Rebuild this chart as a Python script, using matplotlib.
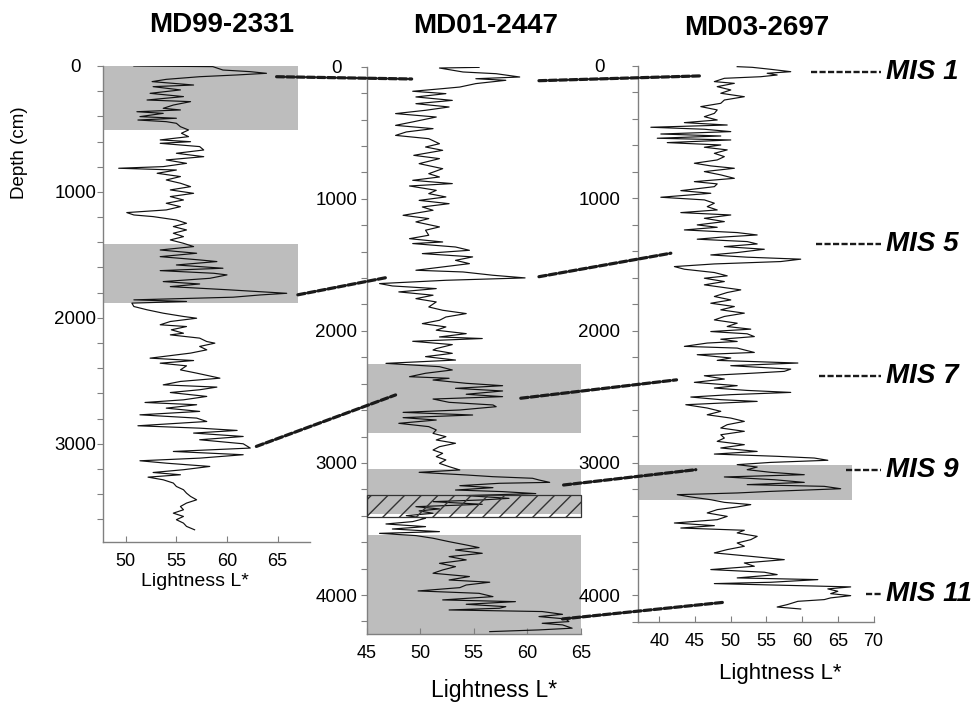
import numpy as np
import matplotlib
matplotlib.use("Agg")
import matplotlib.pyplot as plt
from matplotlib.patches import Rectangle, ConnectionPatch

plt.rcParams['font.family'] = ['Liberation Sans', 'DejaVu Sans']

# lightness L* vs depth (cm)
md99 = [(0, 50.8), (5, 58.6), (32, 59.6), (45, 62.3), (58, 63.9), (71, 61.0), (85, 57.3), (106, 54.0),
        (124, 52.6), (151, 56.7), (164, 52.7), (190, 55.4), (217, 52.4), (243, 55.7), (270, 52.1),
        (283, 56.4), (310, 54.7), (336, 53.7), (349, 55.4), (363, 51.1), (376, 53.7), (402, 51.4),
        (415, 55.0), (429, 51.2), (442, 54.0), (455, 55.0), (482, 55.4), (508, 56.2), (534, 55.5),
        (561, 56.2), (587, 53.4), (601, 56.4), (614, 53.4), (640, 57.3), (667, 57.7), (693, 55.0),
        (720, 57.7), (746, 54.0), (773, 56.0), (799, 53.7), (812, 49.3), (826, 55.0), (852, 53.1),
        (878, 55.4), (905, 54.0), (931, 55.4), (958, 56.4), (984, 54.4), (1011, 56.7), (1037, 54.4),
        (1064, 55.7), (1090, 54.0), (1117, 55.4), (1143, 54.0), (1164, 50.1), (1183, 50.8), (1196, 52.7),
        (1223, 55.0), (1249, 56.0), (1275, 54.7), (1302, 56.0), (1328, 54.7), (1355, 55.7), (1381, 54.4),
        (1408, 55.7), (1434, 56.7), (1461, 53.4), (1487, 57.0), (1514, 53.4), (1540, 57.3), (1553, 59.0),
        (1580, 55.0), (1606, 59.6), (1625, 53.4), (1646, 58.7), (1659, 60.0), (1686, 58.3), (1712, 53.7),
        (1731, 57.3), (1752, 54.4), (1778, 60.3), (1805, 65.9), (1818, 63.3), (1836, 60.6), (1857, 50.8),
        (1870, 56.0), (1883, 50.6), (1910, 50.8), (1936, 52.1), (1963, 53.7), (1989, 55.7), (2003, 57.0),
        (2029, 54.4), (2055, 53.4), (2069, 56.0), (2095, 54.5), (2122, 55.7), (2135, 54.4), (2161, 57.3),
        (2188, 58.0), (2201, 58.8), (2227, 57.3), (2254, 58.0), (2280, 56.4), (2320, 52.4), (2339, 56.7),
        (2360, 53.4), (2381, 56.0), (2413, 55.4), (2439, 57.0), (2479, 59.3), (2505, 55.4), (2532, 53.7),
        (2550, 59.0), (2571, 57.3), (2593, 54.4), (2624, 58.0), (2651, 55.7), (2672, 51.9), (2690, 57.0),
        (2717, 54.0), (2743, 57.3), (2770, 51.4), (2796, 57.0), (2823, 58.0), (2857, 51.2), (2876, 57.3),
        (2894, 61.0), (2915, 56.7), (2942, 61.6), (2968, 57.3), (3000, 61.6), (3034, 62.3), (3061, 54.7),
        (3087, 61.6), (3114, 57.3), (3135, 51.4), (3154, 54.0), (3180, 58.3), (3206, 55.7), (3228, 52.7),
        (3246, 55.4), (3265, 52.2), (3286, 53.7), (3312, 54.7), (3339, 55.0), (3365, 55.7), (3392, 56.0),
        (3418, 56.4), (3445, 57.0), (3471, 56.0), (3498, 55.4), (3524, 55.7), (3551, 54.7), (3577, 55.7),
        (3603, 55.0), (3630, 55.7), (3656, 56.0), (3683, 56.8)]

md01 = [(5, 55.5), (10, 51.8), (40, 54.0), (53, 57.1), (78, 59.3), (91, 55.2), (103, 58.0), (128, 55.2),
        (154, 53.7), (166, 52.1), (186, 49.3), (204, 52.4), (229, 49.6), (255, 53.0), (280, 49.6),
        (305, 52.7), (330, 50.5), (355, 47.7), (381, 51.5), (418, 49.3), (444, 47.7), (469, 51.2),
        (494, 48.7), (520, 47.7), (545, 50.8), (583, 51.8), (608, 50.5), (633, 52.1), (671, 49.4),
        (696, 51.8), (734, 49.9), (772, 52.1), (810, 50.8), (835, 51.8), (860, 49.3), (885, 53.0),
        (903, 49.0), (936, 51.5), (961, 50.8), (986, 52.4), (1012, 49.9), (1037, 52.7), (1062, 50.2),
        (1087, 51.2), (1125, 48.4), (1150, 50.8), (1175, 49.6), (1213, 51.8), (1238, 50.5), (1276, 50.8),
        (1302, 49.0), (1327, 52.1), (1339, 49.3), (1365, 53.3), (1390, 54.6), (1415, 50.2), (1440, 54.9),
        (1466, 53.3), (1491, 54.6), (1516, 52.1), (1541, 49.6), (1554, 54.0), (1579, 56.8), (1599, 59.8),
        (1617, 52.4), (1642, 46.2), (1660, 47.4), (1680, 51.5), (1705, 48.0), (1730, 51.2), (1756, 49.6),
        (1781, 51.5), (1819, 50.8), (1844, 52.1), (1869, 54.3), (1895, 52.4), (1920, 51.8), (1945, 50.2),
        (1970, 52.4), (1995, 51.5), (2021, 54.3), (2046, 51.8), (2058, 55.8), (2079, 49.3), (2104, 53.0),
        (2134, 51.5), (2145, 51.2), (2170, 53.0), (2195, 50.5), (2221, 53.3), (2246, 46.8), (2271, 51.8),
        (2296, 53.0), (2321, 50.5), (2347, 49.0), (2359, 52.7), (2372, 51.2), (2397, 54.3), (2415, 57.7),
        (2435, 53.3), (2455, 57.7), (2480, 54.3), (2498, 57.7), (2516, 51.2), (2541, 52.7), (2561, 56.8),
        (2574, 57.1), (2599, 53.7), (2617, 48.4), (2637, 54.9), (2657, 48.4), (2675, 51.5), (2700, 48.0),
        (2725, 50.8), (2750, 51.5), (2776, 51.2), (2801, 52.4), (2826, 51.5), (2851, 53.3), (2877, 51.8),
        (2902, 51.2), (2927, 52.1), (2952, 51.5), (2977, 52.4), (3003, 51.8), (3028, 52.7), (3053, 53.7),
        (3071, 49.9), (3091, 54.3), (3104, 56.8), (3116, 60.5), (3129, 61.1), (3147, 62.1), (3154, 57.4),
        (3172, 53.7), (3187, 56.8), (3205, 53.3), (3217, 57.7), (3232, 60.8), (3247, 54.3), (3268, 58.3),
        (3280, 55.8), (3293, 51.2), (3313, 55.8), (3331, 49.6), (3348, 51.8), (3363, 49.9), (3381, 51.2),
        (3399, 48.7), (3419, 50.5), (3444, 49.3), (3462, 46.8), (3482, 50.5), (3500, 47.4), (3520, 51.8),
        (3533, 46.2), (3550, 49.6), (3570, 51.2), (3596, 52.7), (3621, 54.3), (3641, 55.5), (3659, 53.3),
        (3684, 55.8), (3709, 52.7), (3734, 54.3), (3760, 51.8), (3785, 53.3), (3810, 52.1), (3835, 51.2),
        (3860, 54.6), (3886, 52.7), (3903, 56.5), (3924, 54.3), (3944, 53.7), (3969, 49.8), (3987, 55.5),
        (4012, 56.8), (4037, 52.1), (4050, 58.9), (4070, 54.3), (4088, 58.0), (4100, 57.4), (4113, 52.7),
        (4125, 61.4), (4146, 63.3), (4163, 61.1), (4181, 63.6), (4201, 63.9), (4214, 61.4), (4226, 63.3),
        (4251, 64.2), (4264, 61.1), (4277, 56.5)]

md03 = [(5, 50.9), (10, 53.0), (25, 55.6), (43, 58.4), (55, 55.1), (68, 56.5), (81, 54.2), (93, 49.1),
        (118, 47.7), (131, 50.5), (156, 48.1), (181, 50.0), (206, 48.6), (232, 51.9), (257, 49.1),
        (282, 48.6), (307, 45.8), (332, 48.1), (358, 47.7), (383, 46.3), (408, 48.1), (428, 43.5),
        (446, 49.5), (463, 38.8), (478, 46.3), (496, 50.0), (514, 40.2), (529, 48.6), (546, 39.7),
        (559, 50.0), (579, 41.1), (597, 48.6), (614, 46.3), (634, 49.5), (660, 47.7), (685, 49.1),
        (710, 48.1), (735, 44.9), (755, 47.2), (773, 50.5), (798, 46.3), (823, 48.6), (849, 50.5),
        (874, 44.9), (891, 48.1), (912, 47.7), (942, 43.0), (962, 47.2), (992, 40.2), (1012, 46.3),
        (1037, 47.7), (1063, 46.7), (1088, 48.1), (1108, 43.0), (1126, 50.0), (1151, 46.3), (1176, 49.1),
        (1201, 45.3), (1219, 48.1), (1239, 43.5), (1259, 50.9), (1277, 53.7), (1294, 48.6), (1309, 45.3),
        (1327, 52.3), (1345, 53.7), (1365, 49.1), (1385, 54.7), (1410, 50.9), (1428, 47.2), (1445, 52.3),
        (1460, 59.8), (1478, 57.0), (1496, 47.7), (1516, 42.1), (1536, 43.5), (1561, 47.7), (1586, 49.5),
        (1604, 46.3), (1629, 49.1), (1654, 46.3), (1692, 51.4), (1712, 49.5), (1742, 47.7), (1768, 50.0),
        (1793, 47.2), (1818, 50.5), (1843, 48.6), (1868, 51.9), (1893, 49.1), (1919, 47.7), (1944, 50.9),
        (1969, 49.5), (1989, 52.8), (2007, 47.2), (2024, 52.3), (2045, 53.3), (2065, 48.6), (2082, 50.9),
        (2094, 46.7), (2119, 43.5), (2132, 50.9), (2165, 53.3), (2182, 45.3), (2207, 50.0), (2225, 48.1),
        (2245, 59.4), (2265, 50.0), (2291, 58.4), (2308, 57.5), (2321, 53.3), (2341, 46.3), (2366, 49.1),
        (2391, 44.9), (2416, 50.9), (2434, 47.7), (2452, 52.3), (2467, 58.4), (2484, 50.0), (2502, 44.4),
        (2522, 48.6), (2535, 53.7), (2560, 43.7), (2585, 46.7), (2610, 48.6), (2636, 46.7), (2661, 50.0),
        (2686, 51.9), (2711, 49.5), (2736, 48.6), (2761, 51.9), (2787, 48.6), (2812, 49.1), (2837, 48.1),
        (2862, 51.9), (2887, 48.6), (2913, 53.7), (2933, 47.7), (2950, 56.5), (2963, 61.7), (2980, 63.6),
        (2996, 55.6), (3013, 50.9), (3031, 53.7), (3051, 52.3), (3071, 55.6), (3089, 60.3), (3106, 49.1),
        (3127, 56.1), (3147, 60.3), (3164, 52.3), (3177, 63.1), (3195, 65.4), (3215, 55.6), (3227, 50.9),
        (3240, 42.5), (3257, 44.4), (3278, 47.2), (3298, 49.1), (3315, 52.8), (3333, 50.9), (3353, 48.1),
        (3378, 46.7), (3404, 49.5), (3429, 48.1), (3454, 42.1), (3474, 47.7), (3492, 43.0), (3509, 51.9),
        (3529, 50.9), (3555, 53.7), (3580, 52.8), (3605, 50.9), (3630, 51.9), (3655, 49.5), (3680, 47.7),
        (3706, 52.8), (3731, 57.5), (3756, 51.9), (3781, 53.3), (3806, 47.2), (3826, 54.7), (3844, 56.5),
        (3869, 50.9), (3882, 62.2), (3902, 55.6), (3912, 47.7), (3927, 59.4), (3937, 66.8), (3952, 63.6),
        (3970, 65.0), (3988, 64.0), (4003, 66.8), (4020, 64.0), (4033, 63.1), (4046, 59.4), (4071, 57.9),
        (4089, 56.5), (4104, 59.8)]

cores = ['MD99-2331', 'MD01-2447', 'MD03-2697']
records = [md99, md01, md03]
xlims = [(47.75, 68.2), (45, 65), (37, 70)]
xticks = [[50, 55, 60, 65], [45, 50, 55, 60, 65], [40, 45, 50, 55, 60, 65, 70]]
depth_max = [3780, 4295, 4200]

# shaded interglacial intervals (top, bottom, L right edge)
shade = [
    [(0, 510, 67), (1410, 1880, 67)],
    [(2250, 2770, 65), (3048, 3385, 65), (3545, 4295, 65)],
    [(3013, 3278, 67)],
]
hatched = (1, 3243, 3410)  # core, top, bottom

# tie lines: (core A, L, depth) -> (core B, L, depth)
ties = [
    (0, 64.9, 85, 1, 49.2, 93), (1, 61.1, 106, 2, 45.6, 75),
    (0, 67.0, 1817, 1, 47.0, 1594), (1, 61.1, 1590, 2, 41.6, 1415),
    (0, 62.9, 3021, 1, 47.7, 2485), (1, 59.4, 2510, 2, 42.4, 2372),
    (1, 63.4, 3167, 2, 45.1, 3051),
    (1, 63.3, 4181, 2, 48.9, 4054),
]

# MIS labels on the right of MD03-2697: (label, depth, dash start L)
mis = [('MIS 1', 48, 61.3), ('MIS 5', 1344, 62.0), ('MIS 7', 2341, 62.4),
       ('MIS 9', 3057, 66.2), ('MIS 11', 3988, 69.0)]

W, H = 976, 702
fig = plt.figure(figsize=(W / 100, H / 100), dpi=100)

# axes boxes in pixels: left, right, top, bottom
boxes = [(103, 310, 66, 542), (366.7, 580.7, 66.7, 634), (638, 873.5, 66, 621.7)]
ytick_pad = [16, 18, 24]
gray = '#bdbdbd'
spine_c = '#808080'

axes = []
for i, (l, r, t, b) in enumerate(boxes):
    ax = fig.add_axes([l / W, 1 - b / H, (r - l) / W, (b - t) / H])
    axes.append(ax)
    d, L = np.array(records[i]).T
    for top, bot, xr in shade[i]:
        ax.add_patch(Rectangle((xlims[i][0], top), xr - xlims[i][0], bot - top,
                               facecolor=gray, edgecolor='none', zorder=0))
    if hatched[0] == i:
        ax.add_patch(Rectangle((xlims[i][0], hatched[1]), xlims[i][1] - xlims[i][0],
                               hatched[2] - hatched[1], facecolor='none', edgecolor='#333333',
                               hatch='//', linewidth=0.9, zorder=3, clip_on=False))
    ax.plot(L, d, color='#111111', lw=0.85, zorder=2)
    ax.set_xlim(*xlims[i])
    ax.set_ylim(depth_max[i], 0)
    ax.set_xticks(xticks[i])
    ax.set_yticks(np.arange(0, depth_max[i] + 1, 1000))
    ax.set_yticks(np.arange(0, depth_max[i] + 1, 200), minor=True)
    for s in ['top', 'right']:
        ax.spines[s].set_visible(False)
    for s in ['left', 'bottom']:
        ax.spines[s].set_color(spine_c)
        ax.spines[s].set_linewidth(1.0)
    ax.tick_params(axis='y', which='both', direction='out', length=4, width=0.8,
                   color=spine_c, labelsize=13.5, pad=ytick_pad[i])
    ax.tick_params(axis='x', direction='in', length=4, width=0.8, color=spine_c,
                   labelsize=13, pad=8)
    for lbl in ax.get_yticklabels():
        lbl.set_horizontalalignment('center')
    ax.patch.set_alpha(0)

# core names
title_x = [222, 486, 757]
title_y = [25, 26, 28]
for name, x, y in zip(cores, title_x, title_y):
    fig.text(x / W, 1 - y / H, name, ha='center', va='center', fontsize=20, fontweight='bold')

# axis labels
xl = [(195, 582, 14), (494, 690, 16.5), (780, 674, 16)]
for x, y, fs in xl:
    fig.text(x / W, 1 - y / H, 'Lightness L*', ha='center', va='center', fontsize=fs)
fig.text(20 / W, 1 - 153 / H, 'Depth (cm)', ha='center', va='center', rotation=90, fontsize=13.5)

# tie lines between cores
for a, La, da, b, Lb, db in ties:
    con = ConnectionPatch(xyA=(La, da), coordsA=axes[a].transData,
                          xyB=(Lb, db), coordsB=axes[b].transData,
                          color='#1a1a1a', lw=2.3, linestyle=(0, (2.3, 0.9)), zorder=5)
    fig.add_artist(con)

ax3 = axes[2]
for name, dep, x0 in mis:
    ax3.plot([x0, 71.0], [dep, dep], color='#1a1a1a', lw=1.7, linestyle=(0, (2.6, 1.0)),
             clip_on=False)
    ax3.text(71.8, dep, name, ha='left', va='center', fontsize=20, fontweight='bold',
             fontstyle='italic', clip_on=False)

fig.savefig('out.png', dpi=100)
